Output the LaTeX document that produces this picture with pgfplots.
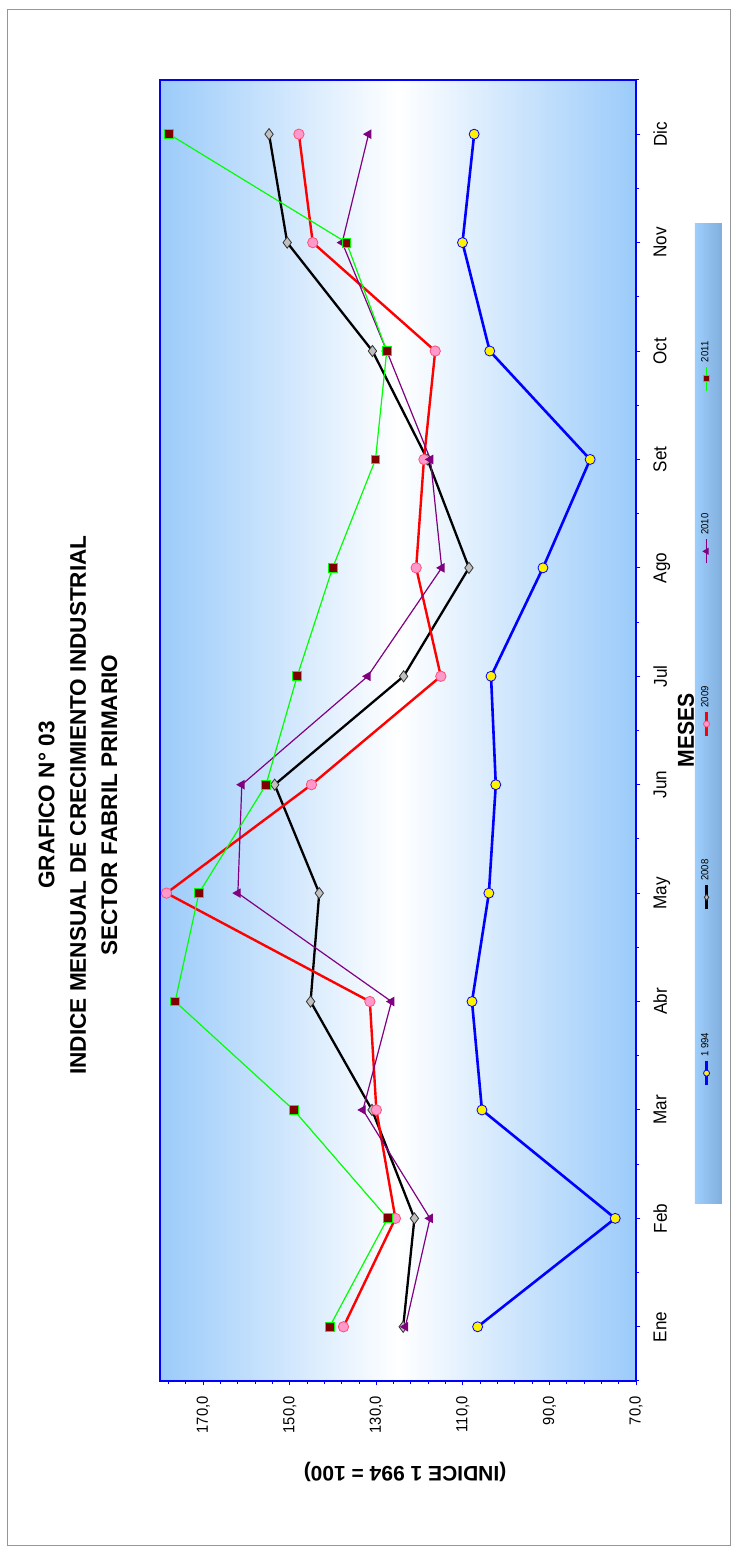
\documentclass[border=0pt]{standalone}
\usepackage{fontspec}
\setmainfont{Liberation Sans}
\newfontfamily\cond[FakeStretch=0.92]{Liberation Sans}
\usepackage{pgfplots}
\usepackage{pgfplotstable}
\pgfplotsset{compat=1.18}
\definecolor{bgblue}{RGB}{155,203,250}
\definecolor{legA}{RGB}{158,206,250}
\definecolor{legB}{RGB}{128,174,222}
\definecolor{axblue}{RGB}{0,0,255}
\definecolor{pinkfill}{RGB}{255,153,204}
\definecolor{pinkedge}{RGB}{255,80,120}
\definecolor{purp}{RGB}{128,0,128}
\definecolor{darkred}{RGB}{128,0,0}
\definecolor{greenl}{RGB}{0,255,0}
\definecolor{grayfill}{RGB}{192,192,192}
\definecolor{framegray}{RGB}{150,150,150}

\pgfplotstableread{
m v1994 v2008 v2009 v2010 v2011
1 106.6 123.8 137.6 123.3 140.8
2 74.8 121.2 125.6 117.6 127.4
3 105.6 131.0 130.0 133.1 149.1
4 107.9 145.2 131.5 126.5 176.5
5 104.0 143.2 178.5 162.0 171.0
6 102.4 153.5 145.0 161.1 155.5
7 103.5 123.7 115.1 132.0 148.3
8 91.5 108.6 120.8 114.9 140.1
9 80.6 118.2 119.0 117.5 130.2
10 103.8 130.9 116.4 127.6 127.6
11 110.1 150.6 144.7 137.9 136.9
12 107.4 154.8 147.9 131.8 177.9
}\datatable

\begin{document}
\begin{tikzpicture}
\useasboundingbox (-80pt,-84.5pt) rectangle (288pt,690.5pt);
\draw[framegray, line width=0.5pt] (-76pt,-82pt) rectangle (285pt,685.5pt);
\begin{axis}[
  at={(0,0)}, anchor=south west,
  scale only axis, width=238pt, height=650.5pt,
  xmin=70, xmax=180, x dir=reverse,
  ymin=0.5, ymax=12.5,
  clip=false,
  axis background/.style={left color=bgblue, right color=bgblue, middle color=white},
  axis line style={axblue, line width=0.6pt},
  xtick={70,90,110,130,150,170},
  minor xtick={74,78,...,178},
  ytick={1,...,12},
  minor ytick={0.5,1.5,...,12.5},
  yticklabels={Ene,Feb,Mar,Abr,May,Jun,Jul,Ago,Set,Oct,Nov,Dic},
  xtick pos=left, ytick pos=right,
  xticklabel pos=left, yticklabel pos=right,
  tick align=outside,
  major tick length=2.2pt, minor tick length=1.6pt,
  every tick/.style={axblue, line width=0.5pt},
  xticklabel style={/pgf/number format/fixed, /pgf/number format/fixed zerofill, /pgf/number format/precision=1, /pgf/number format/use comma, /pgf/number format/assume math mode=true, rotate=90, anchor=east, font=\cond\fontsize{8}{9}\selectfont},
  yticklabel style={rotate=90, anchor=north, font=\cond\fontsize{9.3}{10}\selectfont},
  xticklabel shift=2pt, yticklabel shift=3pt,
  xlabel={(INDICE 1 994 = 100)},
  every axis x label/.style={at={(axis description cs:0.5147,-0.07)}, rotate=180, anchor=center, font=\bfseries\fontsize{10.5}{12}\selectfont},
  ylabel={MESES},
  every axis y label/.style={at={(axis description cs:1.105,0.5004)}, rotate=90, anchor=center, font=\cond\bfseries\fontsize{11.5}{12}\selectfont},
  title={GRAFICO N° 03\\INDICE MENSUAL DE CRECIMIENTO INDUSTRIAL\\SECTOR FABRIL PRIMARIO},
  every axis title/.style={at={(axis description cs:-0.1723,0.4427)}, rotate=90, anchor=center, align=center, font=\bfseries\fontsize{11.3}{15.7}\selectfont},
  legend columns=1,
  reverse legend,
  legend cell align=left,
  legend image code/.code={
    \draw[mark repeat=2,mark phase=2,#1] plot coordinates {(0pt,-6pt) (0pt,0pt) (0pt,6pt)};
  },
  legend image post style={mark size=1.5pt},
  legend style={at={(axis description cs:1.1523,0.5134)}, anchor=center,
    draw=none, left color=legA, right color=legB,
    inner sep=0pt, minimum width=13.5pt, minimum height=490pt,
    row sep=60.2pt,
    /tikz/every odd column/.append style={column sep=-5.2pt},
    nodes={minimum width=0pt, minimum height=0pt, yshift=7pt, rotate=90, anchor=west, inner sep=1pt, font=\cond\fontsize{5.2}{6}\selectfont},
  },
]
\addplot[axblue, line width=1.3pt, mark=*, mark size=2.5pt, mark options={fill=yellow, draw=axblue, line width=0.4pt}] table[x=v1994, y=m] {\datatable};
\addlegendentry{1 994}
\addplot[black, line width=1.15pt, mark=diamond*, mark size=2.8pt, mark options={fill=grayfill, draw=black!80, line width=0.4pt}] table[x=v2008, y=m] {\datatable};
\addlegendentry{2008}
\addplot[red, line width=1.2pt, mark=*, mark size=2.6pt, mark options={fill=pinkfill, draw=pinkedge, line width=0.4pt}] table[x=v2009, y=m] {\datatable};
\addlegendentry{2009}
\addplot[purp, line width=0.6pt, mark=triangle*, mark size=2.2pt, mark options={fill=purp, draw=purp, rotate=90}] table[x=v2010, y=m] {\datatable};
\addlegendentry{2010}
\addplot[greenl, line width=0.6pt, mark=square*, mark size=2.2pt, mark options={fill=darkred, draw=greenl, line width=0.5pt}] table[x=v2011, y=m] {\datatable};
\addlegendentry{2011}
\end{axis}
\end{tikzpicture}
\end{document}
